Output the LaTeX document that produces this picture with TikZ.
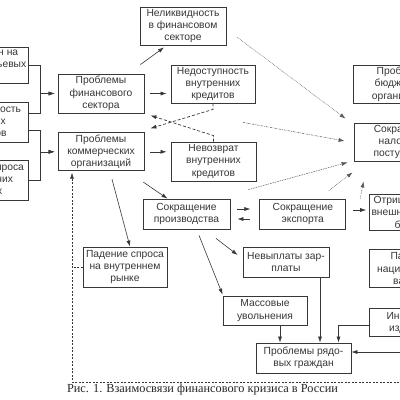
\documentclass[tikz,border=0pt]{standalone}
\usepackage{fontspec}
\setmainfont{Liberation Sans}
\newfontfamily\capfont{Liberation Serif}
\usetikzlibrary{positioning,arrows.meta}
\definecolor{boxgray}{RGB}{55,55,55}
\definecolor{dotgray}{RGB}{90,90,90}

\begin{document}
\begin{tikzpicture}[
    x=1pt, y=-1pt,
    box/.style={rectangle, draw=boxgray, line width=0.8pt, fill=white, align=center, inner sep=0pt, text=boxgray, font=\fontsize{10.3}{12.3}\selectfont, minimum width=86pt, minimum height=38pt},
    arrow/.style={-{Latex[length=6pt,width=4pt]}, line width=0.6pt, boxgray},
    dasharrow/.style={arrow, dash pattern=on 3pt off 2pt, line width=0.7pt},
    fbline/.style={line width=0.6pt, boxgray, dash pattern=on 2pt off 1.5pt},
    dotarrow/.style={arrow, dotgray, densely dotted, line width=0.6pt},
    dasharrowfine/.style={arrow, dotgray, dash pattern=on 2pt off 1pt on 0.6pt off 1pt, line width=0.5pt},
    dotdash/.style={arrow, dotgray, dash pattern=on 1.5pt off 1pt, line width=0.5pt}
]
    \useasboundingbox (0,0) rectangle (400,400);
    \fill[white] (0,0) rectangle (400,400);
    \clip (0,0) rectangle (400,400);

    % Nodes
    \node[box, minimum width=96pt, minimum height=36pt] (lb1) at (-20,65) {Падение цен на\\мировых сырьевых\\рынках};
    \node[box, minimum height=40pt] (lb2) at (-15,122) {Недоступность\\внешних\\кредитов};
    \node[box, minimum height=40pt] (lb3) at (-15,180) {Падение спроса\\на внешних\\рынках};
    \node[box, minimum height=39pt] (pfs) at (101,93.5) {Проблемы\\финансового\\сектора};
    \node[box, below=19pt of pfs] (pko) {Проблемы\\коммерческих\\организаций};
    \node[box] (neliq) at (183,26) {Неликвидность\\в финансовом\\секторе};
    \node[box, minimum width=84pt] (nedost) at (213,84) {Недоступность\\внутренних\\кредитов};
    \node[box, minimum width=85pt, minimum height=39pt] (nevoz) at (213.5,161.5) {Невозврат\\внутренних\\кредитов};
    \node[box, minimum width=87pt, minimum height=30pt] (prod) at (186.5,214) {Сокращение\\производства};
    \node[box, minimum height=30pt, right=29pt of prod] (export) {Сокращение\\экспорта};
    \node[box, minimum width=84pt, minimum height=40pt] (spros) at (125,267) {Падение спроса\\на внутреннем\\рынке};
    \node[box, minimum height=30pt] (nevyp) at (286,262) {Невыплаты зар-\\платы};
    \node[box, minimum width=84pt, minimum height=29pt] (massov) at (265,310.5) {Массовые\\увольнения};
    \node[box, minimum width=95pt, minimum height=30pt] (grazh) at (303.5,358) {Проблемы рядо-\\вых граждан};
    \node[box, minimum width=98pt] (budg) at (402,84) {Проблемы\\бюджетных\\организаций};
    \node[box, minimum width=100pt] (nal) at (404,142) {Сокращение\\налоговых\\поступлений};
    \node[box, minimum width=84pt, minimum height=36pt, right=23pt of export, yshift=2pt] (otric) {Отрицательный\\внешнеторговый\\баланс};
    \node[box, minimum width=84pt, below=19pt of otric] (padval) {Падение\\национальной\\валюты};
    \node[box, minimum width=84pt, minimum height=28pt, below=20pt of padval] (infl) {Инфляция\\издержек};
    \coordinate (rin) at (420,352);
    \coordinate (fb) at (420,382);

    % Arrows
    \draw[arrow, shorten >=3pt] (lb1.east) -- ++(12,0) |- (pfs.west);
    \draw[arrow, shorten >=3pt] ([yshift=9pt]lb2.east) -- ++(12,0) |- (pfs.west);
    \draw[arrow, shorten >=3pt] ([yshift=-8pt]lb2.east) -- ++(12,0) |- (pko.west);
    \draw[arrow, shorten >=3pt] (lb3.east) -- ++(12,0) |- (pko.west);
    \draw[arrow, shorten <=6pt, shorten >=4pt] (pfs.east) -- (pfs.east -| nedost.west);
    \draw[arrow, shorten <=6pt, shorten >=4pt] (pko.east) -- (pko.east -| nevoz.west);
    \draw[arrow] ([shift={(-4,-9)}]pfs.north east) -- ([shift={(-19,2)}]neliq.south);
    \draw[dasharrow] (nedost.south) -- ++(0,6) -- ([shift={(6,-4)}]pko.north east);
    \draw[dasharrow] (nevoz.north) -- ++(0,-6) -- ([shift={(6,2)}]pfs.south east);
    \draw[dotarrow] ([shift={(11,-8)}]neliq.south east) -- ([shift={(-8,-4)}]nal.north west);
    \draw[dasharrowfine] ([shift={(30,19)}]nedost.south) -- ([shift={(-9,-1)}]nal.west);
    \draw[dotdash] ([shift={(18,-9)}]prod.north east) -- ([shift={(-6,1)}]nal.south west);
    \draw[dotarrow] ([shift={(26,-8)}]export.north) -- ([shift={(-1,11)}]nal.south west);
    \draw[dotarrow] ([shift={(-9,5)}]otric.north west) -- ([shift={(10,20)}]nal.south west);
    \draw[arrow] ([shift={(-1,11)}]pko.south east) -- ([shift={(-19,0)}]prod.north);
    \draw[arrow] ([shift={(11,8)}]pko.south) -- ([shift={(5,0)}]spros.north);
    \draw[arrow] ([shift={(29.5,9)}]prod.south) -- ([shift={(-5,-7)}]nevyp.west);
    \draw[arrow] ([shift={(12.5,6)}]prod.south) -- ([shift={(0,-1)}]massov.north west);
    \draw[arrow, shorten <=7pt, shorten >=9pt] ([yshift=5pt]prod.east) -- ([yshift=5pt]prod.east -| export.west);
    \draw[arrow, shorten <=9pt, shorten >=7pt] ([yshift=-5pt]prod.east -| export.west) -- ([yshift=-5pt]prod.east);
    \draw[arrow, shorten <=7pt, shorten >=3pt] ([yshift=4pt]export.east) -- ([yshift=4pt]export.east -| otric.west);
    \draw[arrow] ([xshift=15pt]massov.south) -- ([xshift=15pt]massov.south |- grazh.north);
    \draw[arrow] ([xshift=34pt]nevyp.south) -- ([xshift=34pt]nevyp.south |- grazh.north);
    \draw[arrow] ([yshift=-3pt]infl.west) -| ([xshift=35pt]grazh.north);
    \draw[arrow] (rin) -- (rin -| grazh.east);
    \draw[fbline, -{Latex[length=6pt,width=4pt]}, shorten >=1.5pt] (fb) -| ([xshift=-29pt]pko.south);
    \draw[fbline] (spros.west) -- ++(-11,0);

    % Caption
    \node[font=\capfont\fontsize{12.3}{14}\selectfont, text=black!85] (caption) at (202.5,390) {Рис. 1. Взаимосвязи финансового кризиса в России};
\end{tikzpicture}
\end{document}
